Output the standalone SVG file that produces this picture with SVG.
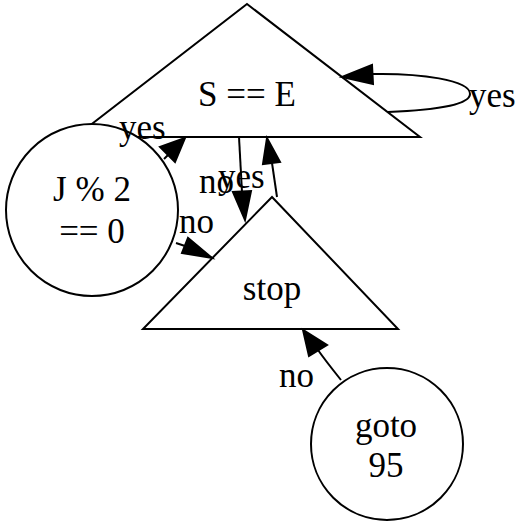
<svg xmlns="http://www.w3.org/2000/svg" width="518" height="522" viewBox="0 0 518 522">
<style>
.n{fill:#fff;stroke:#000;stroke-width:2}
.e{fill:none;stroke:#000;stroke-width:2}
.a{fill:#000;stroke:#000;stroke-width:2}
text{font-family:"Liberation Serif","Times New Roman",serif;font-size:35px;fill:#000}
.c{text-anchor:middle}
</style>
<rect width="518" height="522" fill="#fff"/>
<g id="node-se"><polygon class="n" points="247,4 420,137 75,137"/><text class="c" x="247" y="106">S == E</text></g>
<g id="node-j"><circle class="n" cx="92" cy="210" r="86"/><text class="c" x="92" y="201">J % 2</text><text class="c" x="92" y="243">== 0</text></g>
<g id="node-stop"><polygon class="n" points="272,197 398,329 143,329"/><text class="c" x="272" y="300">stop</text></g>
<g id="node-goto"><circle class="n" cx="387" cy="444" r="76"/><text class="c" x="386" y="437">goto</text><text class="c" x="386" y="477">95</text></g>
<g id="edges">
<path class="e" d="M388,112 C440,110 470,104 470,94 C470,80 420,73 372,74"/><polygon class="a" points="372,65 342,77 373,84"/><text x="469" y="107">yes</text>
<path class="e" d="M164,159 L170,153"/><polygon class="a" points="160,147 185,138 175,162"/><text x="119" y="139">yes</text>
<path class="e" d="M239,137 L242,192"/><polygon class="a" points="233,192 245,220 251,191"/><text x="199" y="193">no</text>
<path class="e" d="M277,197 L272,163"/><polygon class="a" points="263,164 267,138 280,162"/><text x="218" y="188">yes</text>
<path class="e" d="M176,243 L185,246"/><polygon class="a" points="182,253 212,258 188,238"/><text x="179" y="233">no</text>
<path class="e" d="M341,380 C333,370 325,360 318,350"/><polygon class="a" points="309,356 303,330 327,345"/><text x="279" y="387">no</text>
</g>
</svg>
